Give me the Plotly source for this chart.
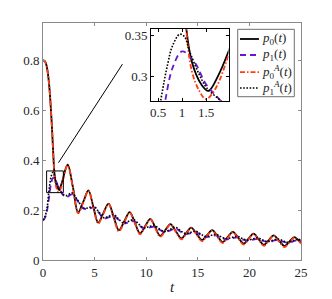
import plotly.graph_objects as go

# ---------------- data ----------------
t_p0A = [0, 0.15, 0.3, 0.45, 0.6, 0.75, 0.9, 1.0, 1.08, 1.2, 1.35, 1.5, 1.7, 1.95, 2.15, 2.4,
         2.9, 3.4, 3.9, 4.4, 4.88, 5.35, 5.85, 6.35, 6.85, 7.35, 7.88, 8.4, 8.9, 9.4, 9.9, 10.4,
         10.88, 11.35, 11.85, 12.35, 12.88, 13.4, 13.88, 14.35, 14.88, 15.4, 15.9, 16.4, 16.9,
         17.4, 17.9, 18.4, 18.92, 19.45, 19.92, 20.4, 20.9, 21.4, 21.88, 22.35, 22.88, 23.4,
         23.88, 24.35, 24.7, 25.0]
p0A = [0.800, 0.798, 0.786, 0.755, 0.700, 0.615, 0.505, 0.420, 0.360, 0.307, 0.283, 0.272,
       0.285, 0.322, 0.360, 0.380, 0.290, 0.187, 0.230, 0.277, 0.210, 0.146, 0.185, 0.224,
       0.170, 0.115, 0.152, 0.190, 0.147, 0.103, 0.133, 0.163, 0.128, 0.093, 0.117, 0.142,
       0.112, 0.083, 0.105, 0.128, 0.102, 0.076, 0.097, 0.118, 0.093, 0.068, 0.090, 0.111,
       0.086, 0.062, 0.083, 0.104, 0.080, 0.057, 0.077, 0.097, 0.074, 0.052, 0.071, 0.090,
       0.078, 0.066]

t_p0 = [0, 0.15, 0.3, 0.45, 0.6, 0.75, 0.9, 1.0, 1.08, 1.2, 1.4, 1.55, 1.75, 1.97, 2.15, 2.4,
        2.9, 3.4, 3.9, 4.4, 4.88, 5.35, 5.85, 6.35, 6.85, 7.35, 7.88, 8.4, 8.9, 9.4, 9.9, 10.4,
        10.88, 11.35, 11.85, 12.35, 12.88, 13.4, 13.88, 14.35, 14.88, 15.4, 15.9, 16.4, 16.9,
        17.4, 17.9, 18.4, 18.92, 19.45, 19.92, 20.4, 20.9, 21.4, 21.88, 22.35, 22.88, 23.4,
        23.88, 24.35, 24.7, 25.0]
p0 = [0.800, 0.798, 0.786, 0.755, 0.700, 0.615, 0.505, 0.422, 0.362, 0.318, 0.290, 0.282,
      0.300, 0.330, 0.360, 0.382, 0.292, 0.191, 0.233, 0.279, 0.213, 0.150, 0.188, 0.226,
      0.173, 0.119, 0.155, 0.192, 0.150, 0.107, 0.136, 0.165, 0.131, 0.097, 0.120, 0.144,
      0.115, 0.087, 0.108, 0.130, 0.105, 0.080, 0.100, 0.120, 0.096, 0.072, 0.093, 0.113,
      0.089, 0.066, 0.086, 0.106, 0.083, 0.061, 0.080, 0.099, 0.077, 0.056, 0.074, 0.092,
      0.081, 0.069]

t_p1 = [0, 0.2, 0.4, 0.55, 0.65, 0.8, 1.0, 1.25, 1.5, 1.76, 2.0, 2.3, 2.8, 3.3, 3.9, 4.4,
        4.9, 5.4, 5.9, 6.35, 6.85, 7.3, 7.8, 8.3, 8.8, 9.3, 9.75, 10.3, 10.8, 11.3, 11.8,
        12.35, 12.85, 13.35, 13.85, 14.35, 14.8, 15.3, 15.8, 16.3, 16.75, 17.25, 17.75, 18.3,
        18.85, 19.3, 19.8, 20.3, 20.8, 21.25, 21.75, 22.25, 22.75, 23.25, 23.7, 24.2, 24.65, 25.0]
p1 = [0.158, 0.170, 0.200, 0.240, 0.271, 0.310, 0.330, 0.318, 0.290, 0.273, 0.258, 0.252,
      0.263, 0.240, 0.207, 0.205, 0.211, 0.190, 0.167, 0.171, 0.177, 0.162, 0.147, 0.151,
      0.156, 0.140, 0.127, 0.130, 0.134, 0.121, 0.112, 0.119, 0.127, 0.113, 0.104, 0.108,
      0.112, 0.100, 0.092, 0.095, 0.099, 0.090, 0.083, 0.087, 0.091, 0.083, 0.077, 0.081,
      0.085, 0.078, 0.072, 0.076, 0.081, 0.074, 0.069, 0.074, 0.079, 0.076]

t_p1A = [0, 0.2, 0.4, 0.556, 0.7, 0.8, 0.95, 1.05, 1.17, 1.35, 1.51, 1.79, 2.0, 2.3, 2.8,
         3.3, 3.9, 4.4, 4.9, 5.4, 5.9, 6.35, 6.85, 7.3, 7.8, 8.3, 8.8, 9.3, 9.75, 10.3, 10.8,
         11.3, 11.8, 12.35, 12.85, 13.35, 13.85, 14.35, 14.8, 15.3, 15.8, 16.3, 16.75, 17.25,
         17.75, 18.3, 18.85, 19.3, 19.8, 20.3, 20.8, 21.25, 21.75, 22.25, 22.75, 23.25, 23.7,
         24.2, 24.65, 25.0]
p1A = [0.160, 0.175, 0.210, 0.271, 0.315, 0.337, 0.351, 0.348, 0.328, 0.303, 0.286, 0.271,
       0.262, 0.258, 0.269, 0.244, 0.209, 0.209, 0.216, 0.193, 0.169, 0.175, 0.182, 0.165,
       0.149, 0.155, 0.161, 0.143, 0.129, 0.134, 0.138, 0.124, 0.114, 0.123, 0.131, 0.116,
       0.106, 0.111, 0.116, 0.103, 0.094, 0.099, 0.103, 0.093, 0.085, 0.090, 0.095, 0.086,
       0.079, 0.084, 0.089, 0.081, 0.074, 0.079, 0.084, 0.077, 0.071, 0.077, 0.083, 0.080]

labels = ["<i>p</i><sub>0</sub>(<i>t</i>)", "<i>p</i><sub>1</sub>(<i>t</i>)",
          "<i>p</i><sub>0</sub><sup><i>A</i></sup>(<i>t</i>)",
          "<i>p</i><sub>1</sub><sup><i>A</i></sup>(<i>t</i>)"]

x_ticks = [0, 5, 10, 15, 20, 25]
y_ticks = [0, 0.2, 0.4, 0.6, 0.8]
y_ticktext = ["0", "0.2", "0.4", "0.6", "0.8"]
x_range = [0, 25]
y_range = [0, 0.95]

inset_x_range = [0.35, 1.97]
inset_y_range = [0.27, 0.357]
inset_x_ticks = [0.5, 1, 1.5]
inset_y_ticks = [0.3, 0.35]
connector = ([1.5, 7.7], [0.39, 0.785])

# ---------------- styles ----------------
FONT = "Liberation Serif"
TXT = "#262626"
series = [
    (t_p0, p0, "#000000", "solid", 1.8),
    (t_p1, p1, "#6619cc", "6px,4px", 1.8),
    (t_p0A, p0A, "#ff3c14", "5px,2px,1.5px,2px", 1.8),
    (t_p1A, p1A, "#000000", "1.6px,1.6px", 1.6),
]

fig = go.Figure()
for xa, ya in (("x", "y"), ("x2", "y2")):
    for (tt, vv, col, dash, w), lab in zip(series, labels):
        fig.add_trace(go.Scatter(
            x=tt, y=vv, mode="lines", xaxis=xa, yaxis=ya, name=lab,
            line=dict(color=col, dash=dash, width=w, shape="spline", smoothing=1.0),
            showlegend=False, hoverinfo="skip"))

ax_common = dict(showgrid=False, zeroline=False, ticks="inside", ticklen=3,
                 tickfont=dict(family=FONT, size=13, color=TXT), showline=True)

# the page body adds an 8px offset; margins are set so the plot area lands where the reference has it
fig.update_layout(
    width=332, height=299,
    margin=dict(l=35, r=39, t=15, b=47),
    paper_bgcolor="white", plot_bgcolor="white",
    font=dict(family=FONT, size=13, color=TXT),
    xaxis=dict(range=x_range, tickvals=x_ticks, domain=[0, 1], linecolor="#8a8a8a",
               tickcolor="#8a8a8a", mirror="ticks", linewidth=1,
               title=dict(text="<i>t</i>", font=dict(family=FONT, size=15, color=TXT), standoff=2),
               **ax_common),
    yaxis=dict(range=y_range, tickvals=y_ticks, ticktext=y_ticktext, domain=[0, 1],
               linecolor="#8a8a8a", tickcolor="#8a8a8a", mirror="ticks", linewidth=1,
               **ax_common),
    xaxis2=dict(range=inset_x_range, tickvals=inset_x_ticks, ticktext=["0.5", "1", "1.5"],
                domain=[0.4186, 0.719], anchor="y2", linecolor="#000000", tickcolor="#000000",
                mirror="ticks", linewidth=1, **ax_common),
    yaxis2=dict(range=inset_y_range, tickvals=inset_y_ticks, ticktext=["0.3", "0.35"],
                domain=[0.672, 0.9734], anchor="x2", linecolor="#000000", tickcolor="#000000",
                mirror="ticks", linewidth=1, **ax_common),
)

# zoom rectangle and connector on the main axes
fig.add_shape(type="rect", xref="x", yref="y",
              x0=inset_x_range[0], x1=inset_x_range[1], y0=inset_y_range[0], y1=inset_y_range[1],
              line=dict(color="black", width=1), layer="above")
fig.add_shape(type="line", xref="x", yref="y",
              x0=connector[0][0], x1=connector[0][1], y0=connector[1][0], y1=connector[1][1],
              line=dict(color="black", width=1), layer="above")

# legend box (drawn manually to match the compact MATLAB legend)
leg_x0, leg_x1, leg_y0, leg_y1 = 0.7547, 0.974, 0.689, 0.9734
fig.add_shape(type="rect", xref="paper", yref="paper", x0=leg_x0, x1=leg_x1,
              y0=leg_y0, y1=leg_y1, line=dict(color="#6e6e6e", width=1),
              fillcolor="white", layer="above")
leg_rows = [0.9325, 0.865, 0.793, 0.726]
for (tt, vv, col, dash, w), lab, yy in zip(series, labels, leg_rows):
    fig.add_shape(type="line", xref="paper", yref="paper", x0=0.7636, x1=0.837,
                  y0=yy, y1=yy, line=dict(color=col, dash=dash, width=w), layer="above")
    fig.add_annotation(x=0.842, y=yy, xref="paper", yref="paper", text=lab,
                       showarrow=False, xanchor="left", yanchor="middle",
                       font=dict(family=FONT, size=13, color=TXT))

fig.write_html("out.html")
